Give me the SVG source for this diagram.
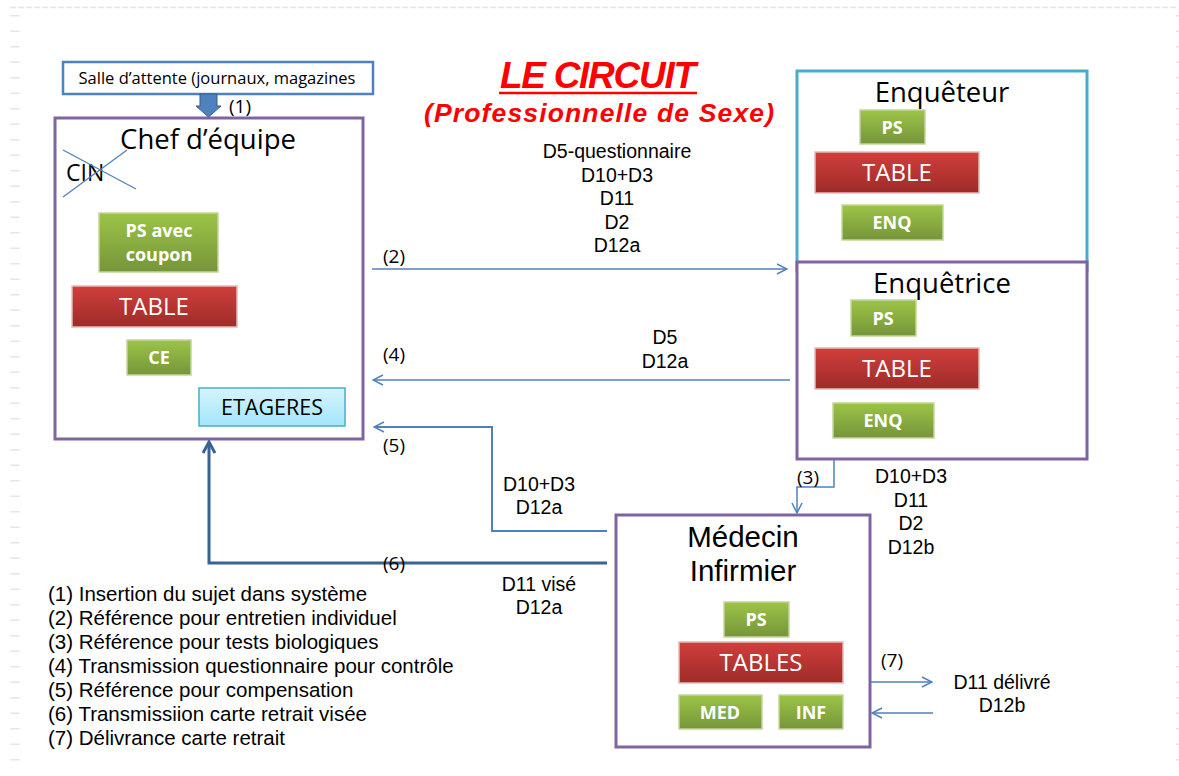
<svg xmlns="http://www.w3.org/2000/svg" width="1179" height="776" viewBox="0 0 1179 776">
  <defs>
    <linearGradient id="gGreen" x1="0" y1="0" x2="0" y2="1">
      <stop offset="0" stop-color="#9cc447"/>
      <stop offset="1" stop-color="#76953a"/>
    </linearGradient>
    <linearGradient id="gRed" x1="0" y1="0" x2="0" y2="1">
      <stop offset="0" stop-color="#d03f3c"/>
      <stop offset="1" stop-color="#9e2b29"/>
    </linearGradient>
    <linearGradient id="gCyan" x1="0" y1="0" x2="0" y2="1">
      <stop offset="0" stop-color="#d6f4fc"/>
      <stop offset="1" stop-color="#a3e5fa"/>
    </linearGradient>
    <marker id="chev" viewBox="0 0 12 12" refX="11" refY="6" markerWidth="12" markerHeight="12" markerUnits="userSpaceOnUse" orient="auto">
      <path d="M1,1 L11,6 L1,11" fill="none" stroke="#4f81bd" stroke-width="1.5"/>
    </marker>
    <marker id="chevDark" viewBox="0 0 14 14" refX="12" refY="7" markerWidth="14" markerHeight="14" markerUnits="userSpaceOnUse" orient="auto">
      <path d="M1,1 L12,7 L1,13" fill="none" stroke="#3a6295" stroke-width="3"/>
    </marker>
  </defs>
  <style>
    text { font-family: "Open Sans", "Liberation Sans", sans-serif; fill: #000; }
    .frame { fill: #fff; stroke: #8064a2; stroke-width: 3; }
    .green { fill: url(#gGreen); stroke: #c3d69b; stroke-width: 1.5; }
    .red { fill: url(#gRed); stroke: #e6b9b8; stroke-width: 1.5; }
    .gtxt { font-size: 18px; font-weight: bold; fill: #fff; text-anchor: middle; }
    .rtxt { font-size: 24px; fill: #fff; text-anchor: middle; }
    .head { font-size: 27.5px; text-anchor: middle; }
    .lbl { font-family: "Liberation Sans", Arial, sans-serif; font-size: 19.5px; text-anchor: middle; }
    .num { font-size: 19px; }
    .leg { font-family: "Liberation Sans", Arial, sans-serif; font-size: 20.5px; }
    .thin { fill: none; stroke: #4f81bd; stroke-width: 1.5; }
    .edge { fill: none; stroke: #e4e4e4; }
    .ttl { font-family: "Liberation Sans", Arial, sans-serif; font-weight: bold; font-style: italic; fill: #ff0000; text-anchor: middle; }
  </style>

  <rect width="1179" height="776" fill="#fff"/>

  <!-- page border marks -->
  <line class="edge" x1="10" y1="7.5" x2="1176" y2="7.5" stroke-width="1.5" stroke-dasharray="6 2"/>
  <line class="edge" x1="15" y1="15" x2="15" y2="770" stroke-width="9" stroke-dasharray="1.5 14"/>
  <line class="edge" x1="1177.5" y1="15" x2="1177.5" y2="770" stroke-width="3" stroke-dasharray="1.5 14"/>

  <!-- title -->
  <g id="title">
    <text class="ttl" x="598" y="88" font-size="37" textLength="196">LE CIRCUIT</text>
    <line x1="499" y1="93" x2="697" y2="93" stroke="#ff0000" stroke-width="2.5"/>
    <text class="ttl" x="599" y="122" font-size="26.5" textLength="350">(Professionnelle de Sexe)</text>
  </g>

  <!-- waiting room -->
  <g id="salle">
    <rect x="63" y="62" width="310" height="32" fill="#fff" stroke="#4f81bd" stroke-width="2.5"/>
    <text x="217" y="84" font-size="16.5" text-anchor="middle">Salle d’attente (journaux, magazines</text>
  </g>

  <!-- team leader -->
  <g id="chef">
    <rect class="frame" x="55" y="118" width="308" height="321"/>
    <text class="head" x="208" y="149">Chef d’équipe</text>
    <text x="66" y="181" font-size="23">CIN</text>
    <line x1="63" y1="150" x2="136" y2="189" stroke="#4f81bd" stroke-width="1.3"/>
    <line x1="63" y1="197" x2="127" y2="150" stroke="#4f81bd" stroke-width="1.3"/>
    <rect class="green" x="99" y="213" width="119" height="59"/>
    <text class="gtxt" x="159" y="237">PS avec<tspan x="159" dy="24">coupon</tspan></text>
    <rect class="red" x="72" y="286" width="165" height="41"/>
    <text class="rtxt" x="154" y="315">TABLE</text>
    <rect class="green" x="127" y="340" width="64" height="35"/>
    <text class="gtxt" x="159" y="364">CE</text>
    <rect x="199" y="388" width="146" height="38" fill="url(#gCyan)" stroke="#4bacc6" stroke-width="1.5"/>
    <text x="272" y="415" font-size="21.5" text-anchor="middle">ETAGERES</text>
  </g>

  <!-- interviewer (male) -->
  <g id="enqueteur">
    <rect x="797" y="71" width="290" height="200" fill="#fff" stroke="#4bacc6" stroke-width="3"/>
    <text class="head" x="942" y="102">Enquêteur</text>
    <rect class="green" x="860" y="110" width="65" height="34"/>
    <text class="gtxt" x="892" y="134">PS</text>
    <rect class="red" x="815" y="152" width="164" height="41"/>
    <text class="rtxt" x="897" y="181">TABLE</text>
    <rect class="green" x="842" y="205" width="101" height="35"/>
    <text class="gtxt" x="892" y="229">ENQ</text>
  </g>

  <!-- interviewer (female) -->
  <g id="enquetrice">
    <rect class="frame" x="797" y="262" width="290" height="197"/>
    <text class="head" x="942" y="293">Enquêtrice</text>
    <rect class="green" x="851" y="300" width="65" height="36"/>
    <text class="gtxt" x="883" y="325">PS</text>
    <rect class="red" x="815" y="348" width="164" height="41"/>
    <text class="rtxt" x="897" y="377">TABLE</text>
    <rect class="green" x="833" y="403" width="101" height="35"/>
    <text class="gtxt" x="883" y="427">ENQ</text>
  </g>

  <!-- doctor / nurse -->
  <g id="medecin">
    <rect class="frame" x="616" y="515" width="254" height="232"/>
    <text x="743" y="547" font-size="29.5" text-anchor="middle" style="font-family:'Liberation Sans', Arial, sans-serif">Médecin<tspan x="743" dy="34">Infirmier</tspan></text>
    <rect class="green" x="724" y="602" width="65" height="35"/>
    <text class="gtxt" x="756" y="626">PS</text>
    <rect class="red" x="679" y="642" width="164" height="41"/>
    <text class="rtxt" x="761" y="671">TABLES</text>
    <rect class="green" x="679" y="695" width="83" height="34"/>
    <text class="gtxt" x="720" y="719">MED</text>
    <rect class="green" x="779" y="695" width="64" height="34"/>
    <text class="gtxt" x="811" y="719">INF</text>
  </g>

  <!-- connectors -->
  <g id="connectors">
    <!-- (1) block arrow -->
    <path d="M200,94 H217 V106 H221 L208.5,117 L196,106 H200 Z" fill="#4f81bd" stroke="#385d8a" stroke-width="1"/>
    <text class="num" x="229" y="113">(1)</text>

    <!-- (2) -->
    <line class="thin" x1="372" y1="269" x2="787" y2="269" marker-end="url(#chev)"/>
    <text class="num" x="383" y="263">(2)</text>
    <text class="lbl" x="617" y="158">D5-questionnaire<tspan x="617" dy="23.5">D10+D3</tspan><tspan x="617" dy="23.5">D11</tspan><tspan x="617" dy="23.5">D2</tspan><tspan x="617" dy="23.5">D12a</tspan></text>

    <!-- (4) -->
    <line class="thin" x1="790" y1="380" x2="373" y2="380" marker-end="url(#chev)"/>
    <text class="num" x="383" y="361">(4)</text>
    <text class="lbl" x="665" y="344">D5<tspan x="665" dy="24">D12a</tspan></text>

    <!-- (3) -->
    <polyline class="thin" points="834,459 834,487 797,487 797,513" marker-end="url(#chev)"/>
    <text class="num" x="797" y="484">(3)</text>
    <text class="lbl" x="911" y="483">D10+D3<tspan x="911" dy="23.5">D11</tspan><tspan x="911" dy="23.5">D2</tspan><tspan x="911" dy="23.5">D12b</tspan></text>

    <!-- (5) -->
    <polyline points="607,531 492,531 492,427 374,427" fill="none" stroke="#4f81bd" stroke-width="2" marker-end="url(#chev)"/>
    <text class="num" x="383" y="452">(5)</text>
    <text class="lbl" x="539" y="491">D10+D3<tspan x="539" dy="23">D12a</tspan></text>

    <!-- (6) -->
    <polyline points="607,563 209,563 209,442" fill="none" stroke="#3a6295" stroke-width="3" marker-end="url(#chevDark)"/>
    <text class="num" x="383" y="570">(6)</text>
    <text class="lbl" x="539" y="591">D11 visé<tspan x="539" dy="23">D12a</tspan></text>

    <!-- (7) -->
    <line class="thin" x1="870" y1="682" x2="932" y2="682" marker-end="url(#chev)"/>
    <line class="thin" x1="933" y1="713" x2="872" y2="713" marker-end="url(#chev)"/>
    <text class="num" x="881" y="667">(7)</text>
    <text class="lbl" x="1002" y="689">D11 délivré<tspan x="1002" dy="23">D12b</tspan></text>
  </g>

  <!-- legend -->
  <g id="legend">
    <text class="leg" x="48" y="601">(1) Insertion du sujet dans système<tspan x="48" dy="24">(2) Référence pour entretien individuel</tspan><tspan x="48" dy="24">(3) Référence pour tests biologiques</tspan><tspan x="48" dy="24">(4) Transmission questionnaire pour contrôle</tspan><tspan x="48" dy="24">(5) Référence pour compensation</tspan><tspan x="48" dy="24">(6) Transmissiion carte retrait visée</tspan><tspan x="48" dy="24">(7) Délivrance carte retrait</tspan></text>
  </g>
</svg>
